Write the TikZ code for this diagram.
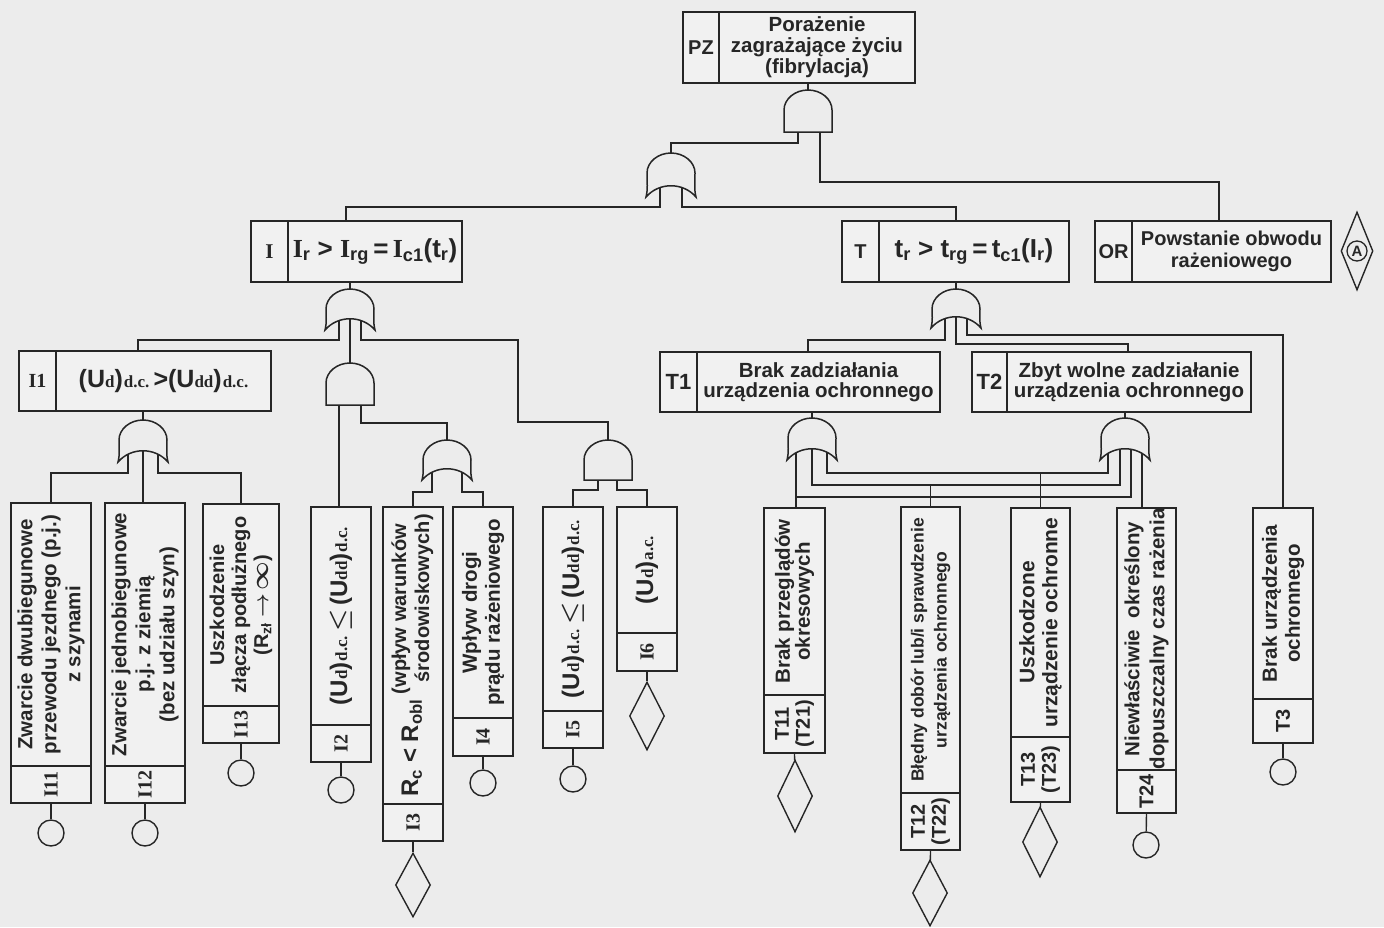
\documentclass[tikz,border=0pt]{standalone}
\usepackage{fontspec}
\setmainfont{Liberation Sans}
\newfontfamily\serifb{Liberation Serif}
\usetikzlibrary{calc,shapes.geometric}

\definecolor{paper}{RGB}{236,236,236}
\definecolor{boxfill}{RGB}{241,241,241}
\definecolor{ink}{RGB}{38,38,38}

\pgfdeclarelayer{bg}
\pgfdeclarelayer{wires}
\pgfsetlayers{bg,wires,main}

\tikzset{
  evbox/.style={draw=ink, line width=1.6pt, fill=boxfill, inner sep=0pt, outer sep=0pt},
  evline/.style={draw=ink, line width=1.4pt},
  wire/.style={draw=ink, line width=1.4pt},
  gateline/.style={draw=ink, line width=1.5pt, fill=paper},
  lbl/.style={inner sep=0pt, text=ink, align=center, font=\bfseries\fontsize{20}{21}\selectfont},
  txt/.style={inner sep=0pt, text=ink, align=center, font=\bfseries\fontsize{20}{21}\selectfont},
  vtxt/.style={inner sep=0pt, text=ink, align=center, rotate=90, font=\bfseries\fontsize{20.5}{24}\selectfont},
  basic/.style={draw=ink, line width=1.4pt, fill=paper, circle, minimum size=26pt, inner sep=0pt},
  undev/.style={draw=ink, line width=1.4pt, fill=paper, diamond, minimum width=35pt, minimum height=68pt, inner sep=0pt},
}

% horizontal event box: name, x, y (top left), width, height, label cell width, label, text, text style
\newcommand{\hev}[9]{%
  \node[evbox, anchor=north west, minimum width=#4pt, minimum height=#5pt] (#1) at (#2,#3) {};
  \draw[evline] ([xshift=#6pt]#1.north west) -- ([xshift=#6pt]#1.south west);
  \node[lbl] (#1-l) at ([xshift=#6pt/2]#1.west) {#7};
  \node[txt, #9] (#1-t) at ($([xshift=#6pt]#1.west)!0.5!(#1.east)$) {#8};
}
% vertical event box: name, x, y (top left), width, height, label cell height, label, text, text style
\newcommand{\vev}[9]{%
  \node[evbox, anchor=north west, minimum width=#4pt, minimum height=#5pt] (#1) at (#2,#3) {};
  \draw[evline] ([yshift=#6pt]#1.south west) -- ([yshift=#6pt]#1.south east);
  \node[lbl, rotate=90] (#1-l) at ([yshift=#6pt/2]#1.south) {#7};
  \node[vtxt, #9] (#1-t) at ($([yshift=#6pt]#1.south)!0.5!(#1.north)$) {#8};
}
% AND gate: name, centre x, top y, bottom y
\newcommand{\andg}[4]{%
  \draw[gateline] (#2-24,#4) -- (#2-24,#3+20)
    .. controls (#2-24,#3+9) and (#2-13,#3) .. (#2,#3)
    .. controls (#2+13,#3) and (#2+24,#3+9) .. (#2+24,#3+20)
    -- (#2+24,#4) -- cycle;
  \coordinate (#1) at (#2,#3);
  \coordinate (#1-b) at (#2,#4);
}
% OR gate: name, centre x, top y, corner y
\newcommand{\org}[4]{%
  \draw[gateline] (#2-25,#4)
    .. controls (#2-23,#4-8) and (#2-24,#4-14) .. (#2-24,#3+20)
    .. controls (#2-24,#3+9) and (#2-13,#3) .. (#2,#3)
    .. controls (#2+13,#3) and (#2+24,#3+9) .. (#2+24,#3+20)
    .. controls (#2+24,#4-14) and (#2+23,#4-8) .. (#2+25,#4)
    .. controls (#2+12,#4-15) and (#2-12,#4-15) .. (#2-25,#4) -- cycle;
  \coordinate (#1) at (#2,#3);
  \coordinate (#1-b) at (#2,#4-14);
}
% voltage expression: (U_x)y
\newcommand{\Udc}[2]{(U{\serifb\fontsize{17}{18}\selectfont #1})\kern1pt{\serifb\fontsize{17}{18}\selectfont #2}}
\newcommand{\leqs}{\,{\boldmath$\le$}\,}
\newcommand{\Ieq}{{\serifb I}\textsubscript{r} > {\serifb I}\textsubscript{rg}\,=\,{\serifb I}\textsubscript{c1}(t\textsubscript{r})}
\newcommand{\Teq}{t\textsubscript{r} > t\textsubscript{rg}\,=\,t\textsubscript{c1}(I\textsubscript{r})}
\newcommand{\Rtext}{{\fontsize{24}{26}\selectfont R\textsubscript{c} < R\textsubscript{obl}}\hspace{5pt}{\fontsize{20}{23}\selectfont\begin{tabular}{@{}l@{}}(wpływ warunków\\\hspace{12pt}środowiskowych)\end{tabular}}}

\begin{document}
\begin{tikzpicture}[x=1pt, y=-1pt]
\useasboundingbox (0,0) rectangle (1384,927);
\begin{pgfonlayer}{bg}
  \fill[paper] (0,0) rectangle (1384,927);
\end{pgfonlayer}

% ---- event boxes (horizontal)
\hev{PZ}{683}{12}{232}{71}{36}{PZ}{Porażenie\\zagrażające życiu\\(fibrylacja)}{font=\bfseries\fontsize{20.5}{21}\selectfont}
\hev{I}{251}{221}{211}{61}{37}{{\serifb\fontsize{21}{22}\selectfont I}}{\Ieq}{font=\bfseries\fontsize{26}{28}\selectfont}
\hev{T}{842}{221}{227}{61}{37}{T}{\Teq}{font=\bfseries\fontsize{26}{28}\selectfont}
\hev{OR}{1095}{221}{236}{61}{37}{{\fontsize{20}{22}\selectfont OR}}{Powstanie obwodu\\rażeniowego}{font=\bfseries\fontsize{20}{22}\selectfont}
\hev{I1}{19}{351}{252}{60}{37}{{\serifb I1}}{\Udc{d}{d.c.}\,>\Udc{dd}{d.c.}}{font=\bfseries\fontsize{25}{27}\selectfont}
\hev{T1}{660}{352}{280}{60}{37}{{\fontsize{22}{24}\selectfont T1}}{Brak zadziałania\\urządzenia ochronnego}{font=\bfseries\fontsize{20.5}{20}\selectfont}
\hev{T2}{972}{352}{279}{60}{35}{{\fontsize{22}{24}\selectfont T2}}{Zbyt wolne zadziałanie\\urządzenia ochronnego}{font=\bfseries\fontsize{20.5}{20}\selectfont}

% ---- A transfer symbol
\node[undev, minimum width=32pt, minimum height=78pt] (Ad) at (1357,251) {};
\node[draw=ink, line width=1.3pt, circle, minimum size=20pt, inner sep=0pt, text=ink, font=\bfseries\fontsize{15}{16}\selectfont] (Ac) at (Ad.center) {A};

% ---- gates
\andg{g0}{808}{90}{132}
\org{g1}{671}{153}{197}
\org{gI}{350}{289}{330}
\andg{gI2}{350}{363}{405}
\org{gI3}{447}{440}{480}
\andg{gI5}{608}{440}{480}
\org{gI1}{143}{420}{462}
\org{gT}{956}{289}{328}
\org{gT1}{812}{418}{460}
\org{gT2}{1125}{418}{460}

% ---- event boxes (vertical)
\vev{I11}{11}{503}{80}{300}{37}{{\serifb I11}}{Zwarcie dwubiegunowe\\przewodu jezdnego (p.j.)\\z szynami}{}
\vev{I12}{105}{503}{80}{300}{37}{{\serifb I12}}{Zwarcie jednobiegunowe\\p.j. z ziemią\\(bez udziału szyn)}{}
\vev{I13}{203}{504}{76}{239}{37}{{\serifb I13}}{Uszkodzenie\\złącza podłużnego\\(R\textsubscript{zł} {\boldmath$\rightarrow$}\,{\fontsize{26}{26}\selectfont\boldmath$\infty$})}{font=\bfseries\fontsize{20}{22}\selectfont}
\vev{I2}{311}{507}{60}{255}{37}{{\serifb I2}}{\Udc{d}{d.c.}\leqs\Udc{dd}{d.c.}}{font=\bfseries\fontsize{24}{26}\selectfont}
\vev{I3}{383}{507}{60}{334}{37}{{\serifb I3}}{\Rtext}{}
\vev{I4}{453}{507}{60}{249}{38}{{\serifb I4}}{Wpływ drogi\\prądu rażeniowego}{font=\bfseries\fontsize{20.5}{23}\selectfont}
\vev{I5}{543}{507}{60}{241}{37}{{\serifb I5}}{\Udc{d}{d.c.}\leqs\Udc{dd}{d.c.}}{font=\bfseries\fontsize{24}{26}\selectfont}
\vev{I6}{617}{507}{60}{164}{38}{{\serifb I6}}{\Udc{d}{a.c.}}{font=\bfseries\fontsize{24}{26}\selectfont}
\vev{T11}{764}{508}{61}{245}{58}{T11\\(T21)}{Brak przeglądów\\okresowych}{font=\bfseries\fontsize{20.5}{20}\selectfont}
\vev{T12}{901}{507}{59}{343}{57}{T12\\(T22)}{Błędny dobór lub/i sprawdzenie\\urządzenia ochronnego}{font=\bfseries\fontsize{17.5}{23}\selectfont}
\vev{T13}{1011}{508}{59}{294}{65}{T13\\(T23)}{Uszkodzone\\urządzenie ochronne}{font=\bfseries\fontsize{21}{23}\selectfont}
\vev{T24}{1117}{508}{59}{305}{43}{T24}{Niewłaściwie\ \ określony\\dopuszczalny czas rażenia}{font=\bfseries\fontsize{20.5}{25}\selectfont}
\vev{T3}{1253}{508}{60}{235}{44}{T3}{Brak urządzenia\\ochronnego}{font=\bfseries\fontsize{20.5}{23}\selectfont}

% ---- basic events and undeveloped events
\node[basic] (I11c) at (51,833) {};
\node[basic] (I12c) at (145,833) {};
\node[basic] (I13c) at (241,773) {};
\node[basic] (I2c) at (341,790) {};
\node[basic] (I4c) at (483,783) {};
\node[basic] (I5c) at (573,779) {};
\node[basic] (T24c) at (1146,845) {};
\node[basic] (T3c) at (1283,772) {};
\node[undev, minimum height=64pt] (I3d) at (413,885) {};
\node[undev] (I6d) at (647,716) {};
\node[undev, minimum height=72pt] (T11d) at (795,796) {};
\node[undev, minimum height=66pt] (T12d) at (930,893) {};
\node[undev, minimum height=70pt] (T13d) at (1040,842) {};

% ---- connectors
\begin{pgfonlayer}{wires}
  % top level
  \draw[wire] (PZ.south -| g0) -- (g0);
  \coordinate (k1) at (671,143);
  \draw[wire] ($(g0-b)+(-10,0)$) |- (k1) -- (g1);
  \coordinate (k2) at (1219,182);
  \draw[wire] ($(g0-b)+(12,0)$) |- (k2) -- (OR.north -| k2);
  \coordinate (k3) at (346,207);
  \draw[wire] ($(g1-b)+(-11,0)$) |- (k3) -- (I.north -| k3);
  \coordinate (k4) at (956,207);
  \draw[wire] ($(g1-b)+(11,0)$) |- (k4) -- (T.north -| k4);

  % current branch
  \draw[wire] (I.south -| gI) -- (gI);
  \coordinate (k5) at (138,340);
  \draw[wire] ($(gI-b)+(-11,0)$) |- (k5) -- (I1.north -| k5);
  \draw[wire] (gI-b) -- (gI2);
  \coordinate (k6) at (518,340);
  \coordinate (k7) at (608,422);
  \draw[wire] ($(gI-b)+(11,0)$) |- (k6) |- (k7) -- (gI5);
  \coordinate (k8) at ($(gI2-b)+(-11,0)$);
  \draw[wire] (k8) -- (k8 |- I2.north);
  \coordinate (k9) at (447,423);
  \draw[wire] ($(gI2-b)+(11,0)$) |- (k9) -- (gI3);
  \coordinate (k10) at (413,492);
  \coordinate (k11) at (483,492);
  \draw[wire] ($(gI3-b)+(-15,0)$) |- (k10) -- (I3.north -| k10);
  \draw[wire] ($(gI3-b)+(15,0)$) |- (k11) -- (I4.north -| k11);
  \coordinate (k12) at (573,490);
  \coordinate (k13) at (647,490);
  \draw[wire] ($(gI5-b)+(-10,0)$) |- (k12) -- (I5.north -| k12);
  \draw[wire] ($(gI5-b)+(9,0)$) |- (k13) -- (I6.north -| k13);

  \draw[wire] (I1.south -| gI1) -- (gI1);
  \coordinate (k14) at (51,473);
  \coordinate (k15) at (241,473);
  \draw[wire] ($(gI1-b)+(-15,0)$) |- (k14) -- (I11.north -| k14);
  \draw[wire] (gI1-b) -- (gI1-b |- I12.north);
  \draw[wire] ($(gI1-b)+(15,0)$) |- (k15) -- (I13.north -| k15);

  % time branch
  \draw[wire] (T.south -| gT) -- (gT);
  \coordinate (k16) at (808,340);
  \coordinate (k17) at (1128,344);
  \coordinate (k18) at (1283,335);
  \draw[wire] ($(gT-b)+(-11,0)$) |- (k16) -- (T1.north -| k16);
  \draw[wire] (gT-b) |- (k17) -- (T2.north -| k17);
  \draw[wire] ($(gT-b)+(11,0)$) |- (k18) -- (T3.north -| k18);

  \draw[wire] (T1.south -| gT1) -- (gT1);
  \draw[wire] (T2.south -| gT2) -- (gT2);
  \coordinate (k19) at (1120,485);
  \coordinate (k20) at (1108,473);
  \coordinate (k21) at (796,497);
  \draw[wire] ($(gT1-b)+(-16,0)$) -- (k21) -- (k21 |- T11.north);
  \draw[wire] (k21) -| ($(gT2-b)+(6,0)$);
  \draw[wire] (gT1-b) |- (k19) -- ($(gT2-b)+(-5,0)$);
  \draw[wire] (T12.north) -- (T12.north |- k19);
  \draw[wire] ($(gT1-b)+(15,0)$) |- (k20) -- ($(gT2-b)+(-17,0)$);
  \draw[wire] (T13.north) -- (T13.north |- k20);
  \coordinate (k22) at ($(gT2-b)+(17,0)$);
  \draw[wire] (k22) -- (k22 |- T24.north);

  % leaves
  \draw[wire] (I11.south) -- (I11c);
  \draw[wire] (I12.south) -- (I12c);
  \draw[wire] (I13.south) -- (I13c);
  \draw[wire] (I2.south) -- (I2c);
  \draw[wire] (I3.south) -- (I3d);
  \draw[wire] (I4.south) -- (I4c);
  \draw[wire] (I5.south) -- (I5c);
  \draw[wire] (I6.south) -- (I6d);
  \draw[wire] (T11.south) -- (T11d);
  \draw[wire] (T12.south) -- (T12d);
  \draw[wire] (T13.south) -- (T13d);
  \draw[wire] (T24.south) -- (T24c);
  \draw[wire] (T3.south) -- (T3c);
\end{pgfonlayer}
\end{tikzpicture}
\end{document}
